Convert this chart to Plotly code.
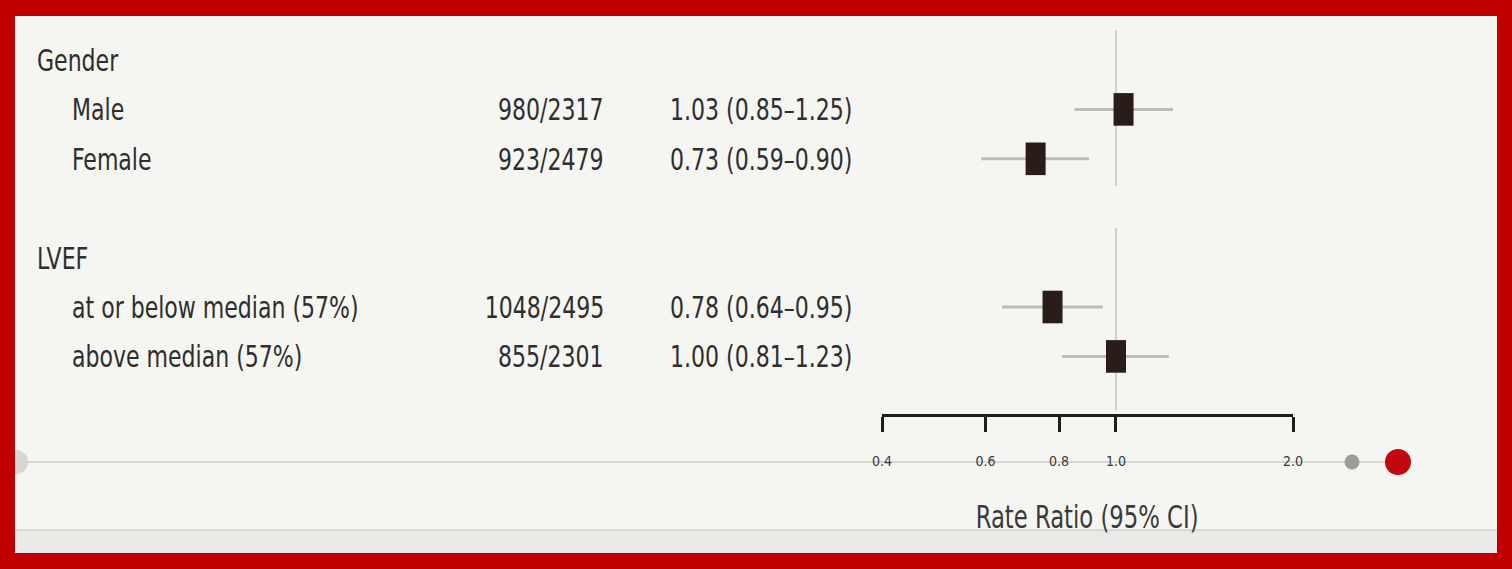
import plotly.graph_objects as go

W, H = 1512, 569

# ---- data ----
groups = ["Gender", "LVEF"]
subgroups = [
    ["Male", "Female"],
    ["at or below median (57%)", "above median (57%)"],
]
events = [["980/2317", "923/2479"], ["1048/2495", "855/2301"]]
rr = [[1.03, 0.73], [0.78, 1.00]]
lo = [[0.85, 0.59], [0.64, 0.81]]
hi = [[1.25, 0.90], [0.95, 1.23]]
tick_vals = [0.4, 0.6, 0.8, 1.0, 2.0]
tick_text = ["0.4", "0.6", "0.8", "1.0", "2.0"]
x_title = "Rate Ratio (95% CI)"

FONT = "DejaVu Sans Condensed, Liberation Sans Narrow, Arial Narrow, sans-serif"
TXT = "#2e2e2e"

def px(x):
    return x / W

def py(y):
    return 1 - y / H

rows = []
r = 0
group_spans = []
for gi, g in enumerate(groups):
    start = r
    rows.append(("h", g, gi, None, r)); r += 1
    for si, s in enumerate(subgroups[gi]):
        rows.append(("s", s, gi, si, r)); r += 1
    group_spans.append((start, r - 1))
    r += 1

ROW0, ROWH = 60.0, 49.4
y_top = -ROW0 / ROWH
y_bot = (H - ROW0) / ROWH

fig = go.Figure()

ref_x, ref_y = [], []
for k, (a, b) in enumerate(group_spans):
    end = b + 0.55 if k < len(group_spans) - 1 else b + 1.1
    ref_x += [1.0, 1.0, None]
    ref_y += [a - 0.6, end, None]
fig.add_trace(go.Scatter(x=ref_x, y=ref_y, mode="lines",
                         line=dict(color="#cfcfcb", width=2), hoverinfo="skip",
                         showlegend=False))

ci_x, ci_y, bx_x, bx_y = [], [], [], []
annots = []
for kind, label, gi, si, ri in rows:
    if kind == "h":
        annots.append(dict(x=px(35), y=ri, text=label, xanchor="left"))
        continue
    annots.append(dict(x=px(70), y=ri, text=label, xanchor="left"))
    annots.append(dict(x=px(606), y=ri, text=events[gi][si], xanchor="right"))
    annots.append(dict(x=px(668), y=ri,
                       text=f"{rr[gi][si]:.2f} ({lo[gi][si]:.2f}\u2013{hi[gi][si]:.2f})",
                       xanchor="left"))
    ci_x += [lo[gi][si], hi[gi][si], None]
    ci_y += [ri, ri, None]
    bx_x += [rr[gi][si], rr[gi][si], None]
    bx_y += [ri - 0.33, ri + 0.33, None]

fig.add_trace(go.Scatter(x=ci_x, y=ci_y, mode="lines",
                         line=dict(color="#bdbdb8", width=3), hoverinfo="skip",
                         showlegend=False))
fig.add_trace(go.Scatter(x=bx_x, y=bx_y, mode="lines",
                         line=dict(color="#2a1c19", width=20), hoverinfo="skip",
                         showlegend=False))

for a in annots:
    fig.add_annotation(xref="paper", yref="y", showarrow=False, yanchor="middle",
                       font=dict(family=FONT, size=31, color=TXT), **a)

fig.add_annotation(xref="paper", yref="paper", x=px(1087), y=py(517),
                   text=x_title, showarrow=False, xanchor="center", yanchor="middle",
                   font=dict(family=FONT, size=32, color="#3a3a3a"))

shapes = []
shapes.append(dict(type="line", xref="paper", yref="paper", x0=px(15), x1=px(1392),
                   y0=py(462), y1=py(462), line=dict(color="#cbcbc8", width=1.5),
                   layer="below"))
def circle(cx, cy, rad, color, layer="below"):
    return dict(type="circle", xref="paper", yref="paper",
                x0=px(cx - rad), x1=px(cx + rad), y0=py(cy + rad), y1=py(cy - rad),
                fillcolor=color, line=dict(width=0), layer=layer)
shapes.append(circle(16, 462, 12, "#d6d6d4"))
shapes.append(circle(1352, 462, 7.5, "#9c9c98"))
shapes.append(circle(1398, 462, 13, "#c4070f"))
shapes.append(dict(type="rect", xref="paper", yref="paper", x0=0, x1=1,
                   y0=py(553), y1=py(530), fillcolor="#e9e9e7",
                   line=dict(width=0), layer="above"))
shapes.append(dict(type="line", xref="paper", yref="paper", x0=0, x1=1,
                   y0=py(530), y1=py(530), line=dict(color="#d8d8d5", width=2),
                   layer="above"))
RED = "#c00000"
for (x0, x1, y0, y1) in [(0, W, 0, 16), (0, W, 553, H), (0, 15, 0, H), (1497, W, 0, H)]:
    shapes.append(dict(type="rect", xref="paper", yref="paper",
                       x0=px(x0), x1=px(x1), y0=py(y1), y1=py(y0),
                       fillcolor=RED, line=dict(width=0), layer="above"))

fig.update_layout(
    template="none",
    width=W, height=H, autosize=False,
    margin=dict(l=0, r=0, t=0, b=0, pad=0, autoexpand=False),
    paper_bgcolor="#f5f5f1", plot_bgcolor="rgba(0,0,0,0)",
    showlegend=False, shapes=shapes,
    xaxis=dict(type="log", domain=[px(882), px(1293)],
               range=[-0.39794, 0.30103], anchor="free", position=py(415),
               automargin=False,
               showline=True, linecolor="#1e1e1e", linewidth=3,
               ticks="outside", tickvals=tick_vals, ticktext=tick_text,
               ticklen=15, tickwidth=3, tickcolor="#1e1e1e",
               ticklabelstandoff=17,
               tickfont=dict(family=FONT, size=14, color="#3a3a3a"),
               showgrid=False, zeroline=False, fixedrange=True),
    yaxis=dict(range=[y_bot, y_top], domain=[0, 1], visible=False,
               automargin=False,
               showgrid=False, zeroline=False, fixedrange=True),
)

post = """
var st=document.createElement('style');
st.textContent='html,body{margin:0;padding:0;overflow:hidden;}';
document.head.appendChild(st);
var gd=document.getElementById('{plot_id}');
function squeeze(){
  var fl=gd._fullLayout; if(!fl) return;
  gd.querySelectorAll('g.annotation').forEach(function(g){
    var i=+g.getAttribute('data-index');
    var a=fl.annotations[i]; if(!a) return;
    var t=g.querySelector('text.annotation-text'); if(!t) return;
    var o=a.xanchor==='left'?'left':(a.xanchor==='right'?'right':'center');
    t.style.transformBox='fill-box';
    t.style.transformOrigin=o+' center';
    t.style.transform='scaleX(0.79)';
  });
}
squeeze();
if(gd.on){gd.on('plotly_afterplot', squeeze);}
"""

fig.write_html("out.html", post_script=post,
               config={"displayModeBar": False, "responsive": False})
